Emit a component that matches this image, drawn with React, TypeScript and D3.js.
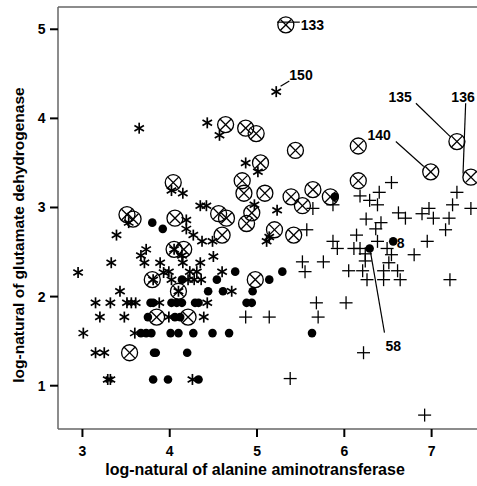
import React from "react";
import * as d3 from "d3";

// ---- data (x = ln ALT, y = ln GLDH) ----
const circleX: [number, number][] = [
  [5.33, 5.05], [4.64, 3.93], [4.87, 3.89], [4.99, 3.83], [5.44, 3.64], [5.04, 3.50],
  [6.16, 3.69], [4.04, 3.28], [4.83, 3.30], [4.85, 3.16], [5.09, 3.16], [5.39, 3.12],
  [5.64, 3.20], [5.52, 3.02], [5.84, 3.12], [6.16, 3.30], [3.51, 2.92], [3.58, 2.87],
  [4.06, 2.88], [4.56, 2.93], [4.65, 2.88], [4.94, 2.94], [4.88, 2.82], [4.60, 2.69],
  [5.20, 2.75], [5.42, 2.69], [4.05, 2.53], [4.16, 2.53], [3.80, 2.19], [4.10, 2.06],
  [4.98, 2.19], [3.85, 1.77], [4.21, 1.77], [3.54, 1.37], [6.99, 3.40], [7.29, 3.74],
  [7.45, 3.34],
];

const asterisk: [number, number][] = [
  [3.65, 3.89], [4.43, 3.95], [4.57, 3.81], [5.22, 4.30], [4.87, 3.50], [5.01, 3.40],
  [4.02, 3.19], [4.15, 3.16], [4.35, 3.02], [4.42, 3.02], [4.97, 3.03], [5.23, 2.97],
  [3.53, 2.83], [4.19, 2.86], [4.19, 2.76], [3.39, 2.69], [4.27, 2.69], [4.37, 2.62],
  [4.49, 2.62], [5.11, 2.62], [5.14, 2.67], [3.73, 2.53], [3.67, 2.46], [3.71, 2.38],
  [3.33, 2.38], [2.95, 2.27], [3.89, 2.38], [3.93, 2.27], [3.99, 2.28], [4.15, 2.38],
  [4.14, 2.46], [4.35, 2.38], [4.50, 2.45], [4.23, 2.28], [4.31, 2.28], [4.60, 2.28],
  [4.02, 2.19], [4.21, 2.19], [4.28, 2.19], [4.36, 2.19], [4.71, 2.06], [3.43, 2.06],
  [3.15, 1.93], [3.32, 1.93], [3.51, 1.93], [3.56, 1.93], [3.61, 1.93], [3.88, 1.93],
  [4.43, 1.93], [3.20, 1.77], [3.48, 1.77], [3.99, 1.77], [4.39, 1.77], [3.01, 1.59],
  [3.60, 1.59], [3.15, 1.37], [3.25, 1.37], [3.29, 1.07], [3.32, 1.07], [4.26, 1.07],
  [4.10, 2.06], [3.81, 2.19], [4.05, 2.53],
];

const dots: [number, number][] = [
  [3.80, 2.83], [3.92, 2.76], [4.14, 2.19], [4.54, 2.19], [4.44, 2.06], [4.61, 2.06],
  [4.95, 2.06], [4.75, 2.28], [5.29, 2.28], [5.14, 2.19], [3.78, 1.93], [3.81, 1.93],
  [4.02, 1.93], [4.08, 1.93], [4.14, 1.93], [4.29, 1.93], [4.33, 1.93], [4.88, 1.93],
  [4.94, 1.93], [3.75, 1.77], [4.06, 1.77], [4.12, 1.77], [3.67, 1.59], [3.73, 1.59],
  [3.79, 1.59], [4.01, 1.59], [4.10, 1.59], [4.27, 1.59], [4.49, 1.59], [4.68, 1.59],
  [5.63, 1.59], [3.82, 1.37], [3.84, 1.37], [4.20, 1.37], [3.81, 1.07], [3.98, 1.07],
  [4.33, 1.07], [6.29, 2.54], [6.56, 2.62], [5.89, 3.12],
];

const plus: [number, number][] = [
  [6.54, 3.28], [6.40, 3.17], [6.18, 3.13], [6.29, 3.08], [6.38, 3.03], [7.29, 3.17],
  [7.24, 3.03], [7.45, 2.99], [5.64, 2.99], [5.87, 3.03], [6.25, 2.87], [6.42, 2.83],
  [6.36, 2.76], [6.62, 2.94], [6.70, 2.88], [6.89, 2.93], [6.97, 2.99], [7.02, 2.88],
  [7.20, 2.88], [7.16, 2.75], [5.57, 2.75], [6.14, 2.69], [5.87, 2.62], [5.92, 2.54],
  [6.11, 2.54], [6.18, 2.54], [6.38, 2.62], [6.49, 2.54], [6.54, 2.47], [6.51, 2.38],
  [6.80, 2.47], [6.95, 2.62], [5.52, 2.39], [5.76, 2.39], [5.55, 2.28], [6.05, 2.29],
  [6.21, 2.29], [6.45, 2.29], [6.61, 2.29], [6.26, 2.19], [6.45, 2.19], [6.64, 2.19],
  [7.21, 2.19], [5.68, 1.93], [6.02, 1.93], [4.87, 1.77], [5.14, 1.77], [5.70, 1.77],
  [6.22, 1.37], [5.38, 1.08], [6.92, 0.67], [6.24, 2.48], [6.24, 2.40],
];

// case labels: text, label position, leader line start/end (data units)
const labelText = ["133", "150", "135", "136", "140", "8", "58"];
const labelPos: [number, number][] = [
  [5.50, 5.05], [5.37, 4.49], [6.64, 4.24], [7.36, 4.24], [6.40, 3.81], [6.60, 2.60], [6.56, 1.445],
];
const leaderFrom: ([number, number] | null)[] = [
  [5.23, 5.08], [5.27, 4.36], [6.82, 4.17], [7.39, 4.17], [6.59, 3.74], null, [6.30, 2.50],
];
const leaderTo: ([number, number] | null)[] = [
  [5.49, 5.08], [5.37, 4.42], [7.22, 3.79], [7.36, 3.38], [6.91, 3.46], null, [6.46, 1.595],
];
const labelAnchor = ["start", "start", "middle", "middle", "middle", "start", "middle"];

const xTicks = [3, 4, 5, 6, 7];
const yTicks = [1, 2, 3, 4, 5];
const xTitle = "log-natural of alanine aminotransferase";
const yTitle = "log-natural of glutamate dehydrogenase";

const W = 477;
const H = 486;
const left = 58, right = 477, top = 7, bottom = 429;

export default function App() {
  const x = d3.scaleLinear().domain([2.72, 7.52]).range([left, right]);
  const y = d3.scaleLinear().domain([0.514, 5.25]).range([bottom, top]);
  const font = "'Liberation Sans', Arial, sans-serif";
  const sw = 1.3;

  const ast = (cx: number, cy: number, i: number) => {
    const r = 5.5;
    const angs = [90, 30, 150].map((a) => (a * Math.PI) / 180);
    return (
      <g key={"a" + i} stroke="#000" strokeWidth={1.7}>
        {angs.map((a, k) => (
          <line key={k} x1={cx - r * Math.cos(a)} y1={cy - r * Math.sin(a)} x2={cx + r * Math.cos(a)} y2={cy + r * Math.sin(a)} />
        ))}
      </g>
    );
  };

  return (
    <svg width={W} height={H} style={{ position: "absolute", left: 0, top: 0, background: "#fff" }} fontFamily={font}>
      <rect x={0} y={0} width={W} height={H} fill="#fff" />
      <defs>
        <clipPath id="plotclip">
          <rect x={left} y={top} width={right - left + 10} height={bottom - top} />
        </clipPath>
      </defs>
      {/* frame */}
      <line x1={left} y1={top} x2={W} y2={top} stroke="#666" strokeWidth={1.5} />
      <line x1={left} y1={top} x2={left} y2={bottom} stroke="#666" strokeWidth={1.5} />
      <line x1={left} y1={bottom} x2={W} y2={bottom} stroke="#666" strokeWidth={1.5} />
      {/* ticks */}
      {xTicks.map((t) => (
        <g key={"xt" + t}>
          <line x1={x(t)} x2={x(t)} y1={bottom} y2={bottom + 8} stroke="#000" strokeWidth={2} />
          <text x={x(t)} y={456} textAnchor="middle" fontSize={14} fontWeight="bold">{t}</text>
        </g>
      ))}
      {yTicks.map((t) => (
        <g key={"yt" + t}>
          <line x1={left - 8} x2={left} y1={y(t)} y2={y(t)} stroke="#000" strokeWidth={2} />
          <text x={45.5} y={y(t) + 5} textAnchor="end" fontSize={14} fontWeight="bold">{t}</text>
        </g>
      ))}
      <text x={255} y={475} textAnchor="middle" fontSize={16} fontWeight="bold">{xTitle}</text>
      <text transform={`translate(24,235) rotate(-90)`} textAnchor="middle" fontSize={15.5} fontWeight="bold">{yTitle}</text>

      <g clipPath="url(#plotclip)">
        {plus.map(([a, b], i) => {
          const cx = x(a), cy = y(b), r = 6.5;
          return (
            <g key={"p" + i} stroke="#000" strokeWidth={sw}>
              <line x1={cx - r} x2={cx + r} y1={cy} y2={cy} />
              <line x1={cx} x2={cx} y1={cy - r} y2={cy + r} />
            </g>
          );
        })}
        {dots.map(([a, b], i) => (
          <circle key={"d" + i} cx={x(a)} cy={y(b)} r={4.3} fill="#000" />
        ))}
        {asterisk.map(([a, b], i) => ast(x(a), y(b), i))}
        {circleX.map(([a, b], i) => {
          const cx = x(a), cy = y(b), r = 8, k = 5.4;
          return (
            <g key={"c" + i} stroke="#000" strokeWidth={sw} fill="none">
              <circle cx={cx} cy={cy} r={r} />
              <line x1={cx - k} y1={cy - k} x2={cx + k} y2={cy + k} />
              <line x1={cx - k} y1={cy + k} x2={cx + k} y2={cy - k} />
            </g>
          );
        })}
        {leaderFrom.map((f, i) => {
          const t = leaderTo[i];
          if (!f || !t) return null;
          return <line key={"l" + i} x1={x(f[0])} y1={y(f[1])} x2={x(t[0])} y2={y(t[1])} stroke="#000" strokeWidth={1.2} />;
        })}
        {labelText.map((s, i) => (
          <text key={"lt" + i} x={x(labelPos[i][0])} y={y(labelPos[i][1]) + 5} textAnchor={labelAnchor[i]} fontSize={14} fontWeight="bold">{s}</text>
        ))}
      </g>
    </svg>
  );
}
